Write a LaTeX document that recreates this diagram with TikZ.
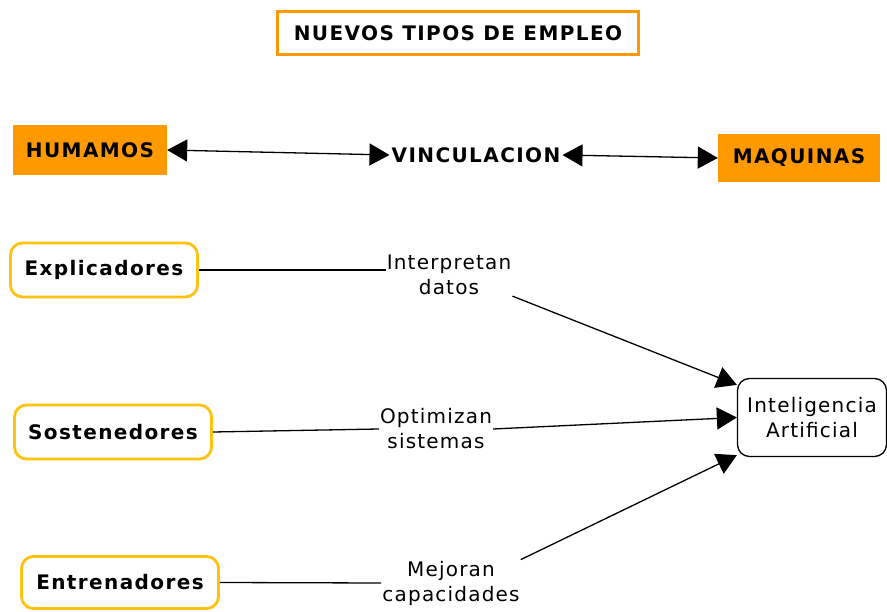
\documentclass[tikz,border=0pt]{standalone}
\usepackage{fontspec}
\setmainfont{DejaVu Sans}
\usetikzlibrary{arrows.meta}
\definecolor{naranja}{HTML}{FF9900}
\definecolor{amarillo}{HTML}{FFC20E}
\newcommand\letranegra{\bfseries\fontsize{20}{23}\selectfont\addfontfeature{LetterSpace=7}}
\newcommand\letrafina{\fontsize{20}{25}\selectfont\addfontfeature{LetterSpace=6}}
\begin{document}
\begin{tikzpicture}[x=1pt,y=-1pt,
        titulo/.style={draw=naranja,line width=2.5pt,minimum width=361pt,minimum height=43pt,font=\letranegra},
        cajanar/.style={fill=naranja,inner sep=0pt,font=\letranegra},
        rol/.style={draw=amarillo,line width=2.8pt,rounded corners=12pt,minimum height=54pt,font=\letranegra},
        verbo/.style={inner sep=1pt,align=center,font=\letrafina},
        flecha/.style={line width=1.3pt,-{Triangle[length=20pt,width=22pt]}},
        doble/.style={line width=1.3pt,{Triangle[length=20pt,width=22pt]}-{Triangle[length=20pt,width=22pt]}},
        recta/.style={line width=1.3pt}]
    \useasboundingbox (0,0) rectangle (887,612);

    \node[titulo] (tit) at (458,33) {NUEVOS TIPOS DE EMPLEO};

    \node[cajanar,minimum width=154pt,minimum height=50pt] (hum) at (90,150) {HUMAMOS};
    \node[font=\letranegra,inner sep=2pt] (vinc) at (476,155) {VINCULACION};
    \node[cajanar,minimum width=162pt,minimum height=48pt] (maq) at (799,158) {MAQUINAS};

    \draw[doble] (hum.east) -- (vinc.west);
    \draw[doble] (vinc.east) -- (maq.west);

    \node[rol,minimum width=187pt] (expl) at (104,270) {Explicadores};
    \node[rol,minimum width=197pt] (sost) at (113,432) {Sostenedores};
    \node[rol,minimum width=197pt,minimum height=52pt] (entr) at (120,582.5) {Entrenadores};

    \node[verbo] (interp) at (449,275) {Interpretan\\datos};
    \node[verbo] (optim) at (436,429) {Optimizan\\sistemas};
    \node[verbo] (mejor) at (451,583) {Mejoran\\capacidades};

    \node[draw,line width=1.3pt,rounded corners=12pt,minimum width=149pt,minimum height=78pt,align=center,font=\letrafina] (ia) at (812,417.5) {Inteligencia\\Artificial};

    \draw[recta] (expl.east) -- (expl.east -| interp.west);
    \draw[recta] (sost.east) -- (optim.west);
    \draw[recta] (entr.east) -- (mejor.west);

    \draw[flecha] (interp.south east) -- ([yshift=-7pt]ia.north west);
    \draw[flecha] (optim.east) -- (ia.west);
    \draw[flecha] (mejor.north east) -- ([yshift=2pt]ia.south west);
\end{tikzpicture}
\end{document}
